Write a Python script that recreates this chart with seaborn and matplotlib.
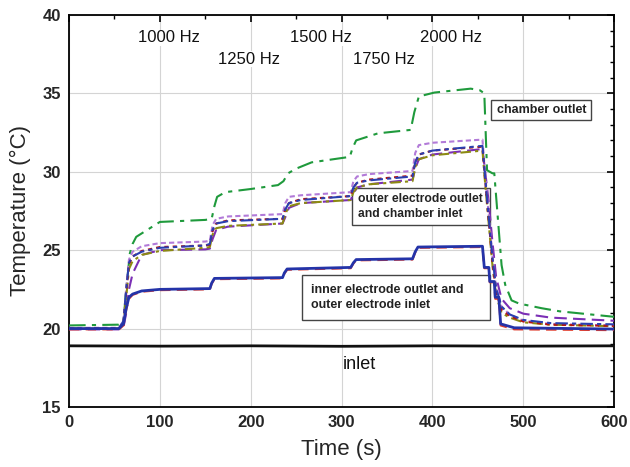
import numpy as np
import pandas as pd
import matplotlib
matplotlib.use("Agg")
import matplotlib.pyplot as plt
from matplotlib.patches import Rectangle
from matplotlib.ticker import MultipleLocator
import seaborn as sns

sns.set_theme(style="white")
plt.rcParams['font.family'] = ['Liberation Sans', 'DejaVu Sans']

# ---------------- data ----------------
t_inlet = [0, 100, 200, 300, 400, 500, 600]
T_inlet = [18.9, 18.88, 18.9, 18.87, 18.9, 18.88, 18.9]

# inner electrode outlet / outer electrode inlet
t_inner = [0, 55, 60, 63, 66, 70, 80, 100, 155, 157, 160, 235, 237, 240, 310, 313,
           316, 378, 381, 384, 455, 457, 462, 463, 468, 469, 473, 475, 490, 600]
T_inner_blue = [20.0, 20.0, 20.3, 21.3, 22.0, 22.2, 22.4, 22.5, 22.55, 22.9, 23.2, 23.25,
                23.55, 23.8, 23.9, 24.2, 24.4, 24.45, 24.9, 25.2, 25.25, 23.9, 23.9, 23.0,
                23.0, 22.0, 22.0, 20.3, 20.05, 19.97]
T_inner_red = [19.95, 19.95, 20.2, 21.2, 21.9, 22.15, 22.35, 22.45, 22.5, 22.85, 23.15, 23.2,
               23.5, 23.75, 23.85, 24.15, 24.35, 24.4, 24.85, 25.15, 25.2, 23.85, 23.85, 22.95,
               22.95, 21.9, 21.9, 20.2, 19.95, 19.9]

# outer electrode outlet / chamber inlet (five traces)
t_outer = [0, 55, 60, 63, 66, 70, 80, 100, 150, 155, 158, 162, 175, 235, 238, 242, 255,
           310, 313, 317, 330, 378, 381, 385, 400, 455, 458, 462, 466, 470, 476, 485,
           500, 530, 600]
T_outer_blue = [20.0, 20.0, 20.5, 22.5, 24.2, 24.6, 24.9, 25.15, 25.3, 25.4, 26.3, 26.7,
                26.85, 27.0, 27.6, 28.0, 28.2, 28.45, 29.0, 29.3, 29.45, 29.7, 30.6, 31.1,
                31.35, 31.65, 29.6, 27.0, 24.5, 22.6, 21.4, 20.9, 20.55, 20.35, 20.27]
T_outer_red = [20.0, 20.0, 20.4, 22.3, 24.1, 24.6, 24.95, 25.2, 25.3, 25.35, 26.2, 26.7,
               26.9, 27.0, 27.6, 28.0, 28.25, 28.45, 29.0, 29.3, 29.5, 29.75, 30.6, 31.1,
               31.35, 31.6, 29.4, 26.8, 24.2, 22.3, 21.2, 20.8, 20.45, 20.25, 20.17]
T_outer_olive = [20.0, 20.0, 20.3, 22.0, 23.8, 24.3, 24.7, 24.95, 25.15, 25.2, 26.0, 26.4,
                 26.55, 26.7, 27.3, 27.8, 28.0, 28.2, 28.7, 29.0, 29.2, 29.4, 30.3, 30.8,
                 31.05, 31.35, 29.2, 26.6, 24.0, 22.1, 21.0, 20.7, 20.4, 20.25, 20.15]
T_outer_purple = [19.95, 19.95, 20.1, 21.0, 22.5, 23.5, 24.7, 25.0, 25.05, 25.1, 25.7, 26.3,
                  26.5, 26.7, 27.1, 27.7, 28.0, 28.2, 28.6, 29.0, 29.2, 29.5, 30.2, 30.8,
                  31.1, 31.45, 30.0, 28.0, 25.5, 23.3, 21.9, 21.3, 20.95, 20.7, 20.5]
T_outer_lav = [20.05, 20.05, 20.5, 22.6, 24.4, 24.9, 25.25, 25.45, 25.55, 25.6, 26.6, 27.0,
               27.15, 27.3, 28.0, 28.4, 28.5, 28.7, 29.4, 29.7, 29.85, 30.05, 31.2, 31.7,
               31.85, 32.05, 29.8, 27.2, 24.6, 22.6, 21.4, 20.9, 20.5, 20.3, 20.2]

# chamber outlet
t_chamber = [0, 55, 60, 63, 67, 70, 74, 100, 150, 157, 160, 163, 172, 200, 230, 236, 241,
             250, 267, 309, 312, 316, 340, 376, 380, 385, 402, 442, 452, 457, 460, 466, 468,
             476, 480, 487, 495, 520, 540, 600]
T_chamber = [20.2, 20.25, 20.5, 22.5, 24.8, 25.4, 25.85, 26.8, 26.93, 27.0, 27.8, 28.4,
             28.7, 28.9, 29.15, 29.4, 29.9, 30.2, 30.6, 30.95, 31.5, 32.0, 32.45, 32.67,
             33.8, 34.8, 35.05, 35.3, 35.2, 35.0, 30.1, 29.9, 29.9, 24.05, 22.8, 21.8, 21.6,
             21.3, 21.1, 20.75]

freq_labels = ["1000 Hz", "1250 Hz", "1500 Hz", "1750 Hz", "2000 Hz"]

# ---------------- figure ----------------
fig = plt.figure(figsize=(6.3, 4.67), dpi=100)
ax = fig.add_axes([0.1095, 0.1285, 0.8655, 0.8395])

def draw(t, T, color, lw, dashes=None, z=3):
    df = pd.DataFrame({"t": t, "T": T})
    sns.lineplot(data=df, x="t", y="T", ax=ax, color=color, linewidth=lw,
                 sort=False, estimator=None, zorder=z)
    line = ax.lines[-1]
    if dashes is not None:
        line.set_dashes(dashes)

draw(t_inlet, T_inlet, "#111111", 2.0)
draw(t_chamber, T_chamber, "#1f9a3c", 1.5, (8, 3, 2, 3))
draw(t_outer, T_outer_purple, "#7b2fb5", 1.5, (6, 3))
draw(t_outer, T_outer_lav, "#b27ad8", 1.5, (2.5, 1.5))
draw(t_outer, T_outer_olive, "#8c8a12", 1.5, (5, 2, 1.5, 2))
draw(t_outer, T_outer_red, "#b31414", 1.5, (2, 2))
draw(t_outer, T_outer_blue, "#2a3fb0", 1.5, (6, 2, 2, 2))
draw(t_inner, T_inner_red, "#e23b2a", 1.5, (5, 3))
draw(t_inner, T_inner_blue, "#2433a8", 2.0)

ax.set_xlim(0, 600)
ax.set_ylim(15, 40)
ax.xaxis.set_major_locator(MultipleLocator(100))
ax.xaxis.set_minor_locator(MultipleLocator(50))
ax.yaxis.set_major_locator(MultipleLocator(5))
ax.yaxis.set_minor_locator(MultipleLocator(1))
ax.grid(True, which="major", color="#d4d4d4", linewidth=0.8, zorder=0)
ax.set_axisbelow(True)
ax.tick_params(which="both", direction="in", top=True, right=True, color="black")
ax.tick_params(which="major", length=5, width=1.2)
ax.tick_params(which="minor", length=3, width=1.0)
ax.tick_params(axis="x", pad=6)
ax.tick_params(axis="y", pad=6)
for lab in ax.get_xticklabels() + ax.get_yticklabels():
    lab.set_fontweight("bold")
    lab.set_fontsize(12)
for s in ax.spines.values():
    s.set_color("black")
    s.set_linewidth(1.3)

ax.set_xlabel("Time (s)", fontsize=16, labelpad=6)
ax.set_ylabel("Temperature (°C)", fontsize=16, labelpad=8)

# frequency labels
freq_x = [110.4, 197.8, 277.6, 346.4, 420.8]
freq_y = [38.53, 37.19, 38.53, 37.19, 38.53]
for lab, x, y in zip(freq_labels, freq_x, freq_y):
    ax.text(x, y, lab, ha="center", va="center", fontsize=12, color="#111111",
            bbox=dict(fc="white", ec="none", pad=0.5), zorder=2)

# annotation boxes
def box(x0, x1, y0, y1, text, tx, ha="left", fs=9):
    ax.add_patch(Rectangle((x0, y0), x1 - x0, y1 - y0, fc="white", ec="#444444",
                           lw=1.0, zorder=2.5))
    ax.text(tx, (y0 + y1) / 2, text, ha=ha, va="center", fontsize=fs,
            fontweight="bold", color="#222222", linespacing=1.3, zorder=2.6)

box(464.5, 574.9, 33.30, 34.58, "chamber outlet", 519.7, ha="center")
box(311.5, 463.4, 26.61, 28.97, "outer electrode outlet\nand chamber inlet", 318.0, fs=8.7)
box(256.0, 463.4, 20.55, 23.40, "inner electrode outlet and\nouter electrode inlet", 266.7)

ax.text(320, 17.74, "inlet", ha="center", va="center", fontsize=13, color="#111111")

fig.savefig("out.png", dpi=100)
